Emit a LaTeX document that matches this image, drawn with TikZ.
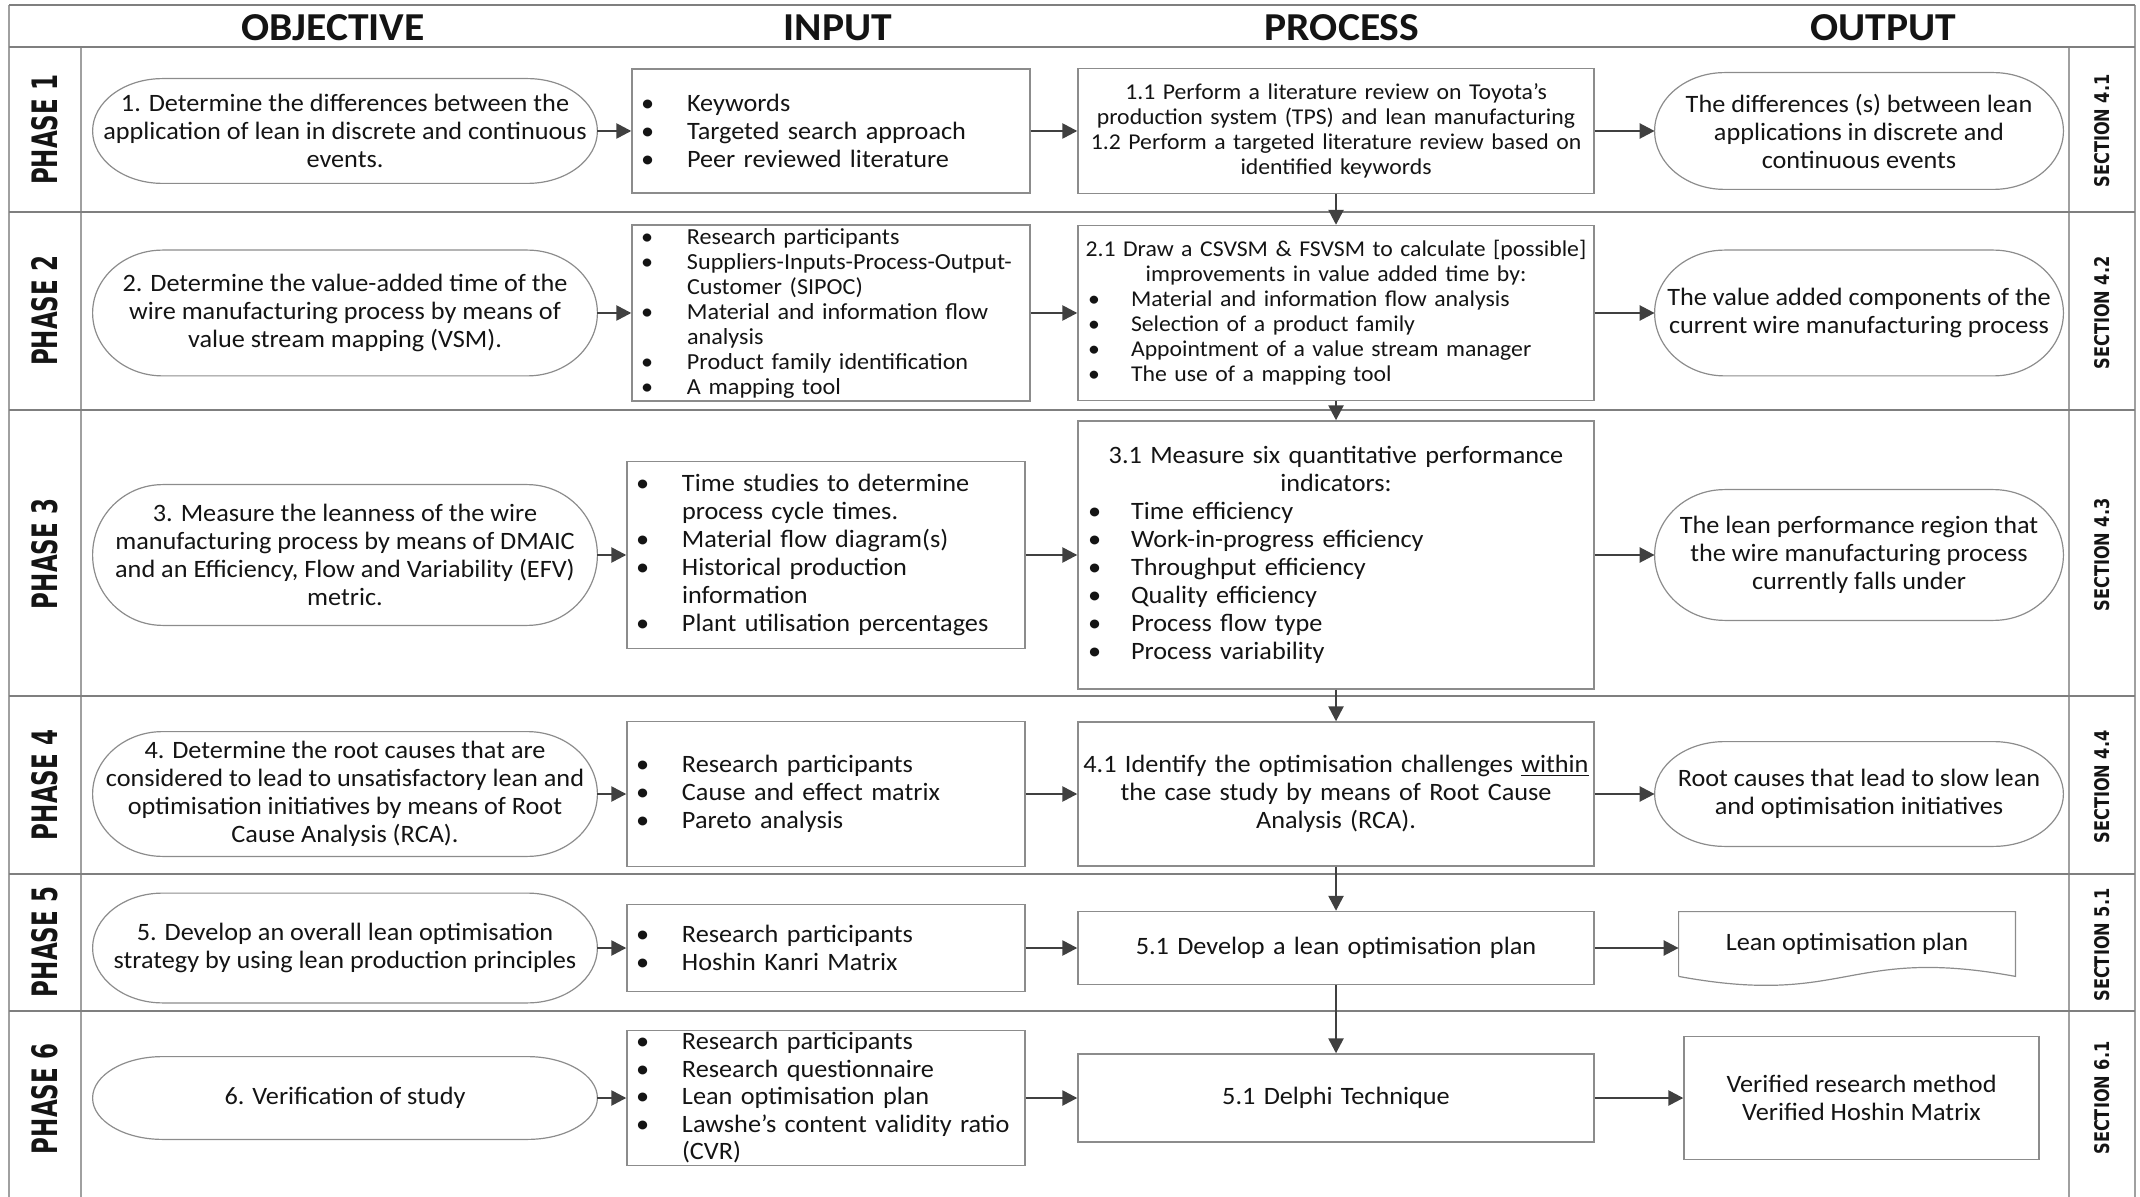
\documentclass[tikz,border=0pt]{standalone}
\usepackage{graphicx}
\usepackage{fontspec}
\setmainfont{Carlito}[FakeStretch=1.05]
\newfontfamily\tagfont{DejaVu Sans}
\usetikzlibrary{arrows.meta,calc}

\definecolor{gridc}{HTML}{7F7F7F}
\definecolor{gridl}{HTML}{A0A0A0}
\definecolor{boxc}{HTML}{8C8C8C}
\definecolor{arrc}{HTML}{404040}
\definecolor{txt}{HTML}{141414}

% bullet items: full-width line, bullet then text at a fixed indent
\newcommand\bl[2][23pt]{\makebox[\linewidth][l]{\makebox[#1][l]{\textbullet}#2}}
\newcommand\cl[2][23pt]{\makebox[\linewidth][l]{\hspace*{#1}#2}}
% bullet items inside the wider process boxes
\newcommand\pb[1]{\makebox[\linewidth][l]{\hspace*{4pt}\makebox[21.5pt][l]{\textbullet}#1}}

% terminator outline (flat top and bottom, elliptical ends) around a node
\newcommand\terminator[1]{%
  \draw[termline] ([xshift=35pt]#1.north west) -- ([xshift=-35pt]#1.north east)
    .. controls ([xshift=-15.67pt]#1.north east) and ($(#1.east)!0.5523!(#1.north east)$) .. (#1.east)
    .. controls ($(#1.east)!0.5523!(#1.south east)$) and ([xshift=-15.67pt]#1.south east) .. ([xshift=-35pt]#1.south east)
    -- ([xshift=35pt]#1.south west)
    .. controls ([xshift=15.67pt]#1.south west) and ($(#1.west)!0.5523!(#1.south west)$) .. (#1.west)
    .. controls ($(#1.west)!0.5523!(#1.north west)$) and ([xshift=15.67pt]#1.north west) .. ([xshift=35pt]#1.north west)
    -- cycle;}

\begin{document}
\begin{tikzpicture}[x=0.5pt,y=-0.5pt,
  every node/.style={font=\fontsize{12.5}{14}\selectfont, text=txt, inner sep=0pt},
  tight/.style={font=\fontsize{11.5}{12.5}\selectfont},
  tighter/.style={font=\fontsize{11.3}{12.5}\selectfont},
  objnode/.style={align=center, minimum width=252pt},
  outnode/.style={align=center, minimum width=204pt},
  inbox/.style={draw=boxc, line width=0.7pt, text width=190pt, inner xsep=4.5pt, inner ysep=0pt, align=center},
  procbox/.style={draw=boxc, line width=0.7pt, text width=256pt, inner xsep=1pt, inner ysep=0pt, align=center},
  outbox/.style={draw=boxc, line width=0.7pt, align=center, minimum width=177.5pt},
  termline/.style={draw=boxc, line width=0.6pt},
  flow/.style={draw=arrc, line width=1.25pt, -{Triangle[length=7.5pt,width=7.5pt]}},
  gridh/.style={draw=gridc, line width=1pt},
  gridv/.style={draw=gridl, line width=0.6pt},
  hdr/.style={font=\fontsize{19.8}{24}\selectfont\bfseries},
  tag/.style={rotate=90}
]
\useasboundingbox (0,0) rectangle (2140,1197);

% table frame
\draw[gridv] (9,5) -- (9,1197);
\draw[gridv] (2135,5) -- (2135,1197);
\draw[gridv] (81,47) -- (81,1197);
\draw[gridv] (2069,47) -- (2069,1197);
\draw[gridh] (9,5) -- (2135,5);
\draw[gridh] (9,47) -- (2135,47);
\foreach \yy in {212,410,696,874,1011}{\draw[gridh] (9,\yy) -- (2135,\yy);}

% column headings
\node[hdr] (hobj) at (333,28) {OBJECTIVE};
\node[hdr] (hin) at (838,28) {INPUT};
\node[hdr] (hproc) at (1342,28) {PROCESS};
\node[hdr] (hout) at (1883,28) {OUTPUT};

% phase and section tags
\foreach \nm/\yy/\t in {ph1/130/1,ph2/311/2,ph3/554/3,ph4/785/4,ph5/942/5,ph6/1099/6}{
  \node[tag] (\nm) at (45,\yy) {\resizebox{55pt}{13pt}{\tagfont\bfseries PHASE \t}};}
\foreach \nm/\yy/\t in {sc1/131/4.1,sc2/313/4.2,sc3/555/4.3,sc4/787/4.4,sc5/945/5.1,sc6/1098/6.1}{
  \node[tag] (\nm) at (2102,\yy) {\resizebox{56.5pt}{7.5pt}{\tagfont\bfseries SECTION \t}};}

% ---------- phase 1 ----------
\node[objnode, minimum height=52pt] (obj1) at (345,131) {1. Determine the differences between the\\application of lean in discrete and continuous\\events.};
\terminator{obj1}
\node[inbox, minimum height=62pt] (in1) at (831,131) {\bl{Keywords}\\\bl{Targeted search approach}\\\bl{Peer reviewed literature}};
\node[procbox, tighter, minimum height=62.5pt] (proc1) at (1336,131) {1.1 Perform a literature review on Toyota’s\\production system (TPS) and lean manufacturing\\1.2 Perform a targeted literature review based on\\identified keywords};
\node[outnode, minimum height=58pt] (out1) at (1859,131) {The differences (s) between lean\\applications in discrete and\\continuous events};
\terminator{out1}

% ---------- phase 2 ----------
\node[objnode, minimum height=62.5pt] (obj2) at (345,313) {2. Determine the value-added time of the\\wire manufacturing process by means of\\value stream mapping (VSM).};
\terminator{obj2}
\node[inbox, tight, minimum height=88pt] (in2) at (831,313) {\bl{Research participants}\\\bl{Suppliers-Inputs-Process-Output-}\\\cl{Customer (SIPOC)}\\\bl{Material and information flow}\\\cl{analysis}\\\bl{Product family identification}\\\bl{A mapping tool}};
\node[procbox, tighter, minimum height=87.5pt] (proc2) at (1336,313) {2.1 Draw a CSVSM \& FSVSM to calculate [possible]\\improvements in value added time by:\\\pb{Material and information flow analysis}\\\pb{Selection of a product family}\\\pb{Appointment of a value stream manager}\\\pb{The use of a mapping tool}};
\node[outnode, minimum height=62.5pt] (out2) at (1859,313) {The value added components of the\\current wire manufacturing process};
\terminator{out2}

% ---------- phase 3 ----------
\node[objnode, minimum height=70pt] (obj3) at (345,555) {3. Measure the leanness of the wire\\manufacturing process by means of DMAIC\\and an Efficiency, Flow and Variability (EFV)\\metric.};
\terminator{obj3}
\node[inbox, minimum height=93.5pt] (in3) at (826,555) {\bl{Time studies to determine}\\\cl{process cycle times.}\\\bl{Material flow diagram(s)}\\\bl{Historical production}\\\cl{information}\\\bl{Plant utilisation percentages}};
\node[procbox, minimum height=134pt] (proc3) at (1336,555) {3.1 Measure six quantitative performance\\indicators:\\\pb{Time efficiency}\\\pb{Work-in-progress efficiency}\\\pb{Throughput efficiency}\\\pb{Quality efficiency}\\\pb{Process flow type}\\\pb{Process variability}};
\node[outnode, minimum height=65pt] (out3) at (1859,555) {The lean performance region that\\the wire manufacturing process\\currently falls under};
\terminator{out3}

% ---------- phase 4 ----------
\node[objnode, minimum height=62pt] (obj4) at (345,794) {4. Determine the root causes that are\\considered to lead to unsatisfactory lean and\\optimisation initiatives by means of Root\\Cause Analysis (RCA).};
\terminator{obj4}
\node[inbox, minimum height=72.5pt] (in4) at (826,794) {\bl{Research participants}\\\bl{Cause and effect matrix}\\\bl{Pareto analysis}};
\node[procbox, minimum height=72pt] (proc4) at (1336,794) {4.1 Identify the optimisation challenges \underline{within}\\the case study by means of Root Cause\\Analysis (RCA).};
\node[outnode, minimum height=52pt] (out4) at (1859,794) {Root causes that lead to slow lean\\and optimisation initiatives};
\terminator{out4}

% ---------- phase 5 ----------
\node[objnode, minimum height=54.5pt] (obj5) at (345,948) {5. Develop an overall lean optimisation\\strategy by using lean production principles};
\terminator{obj5}
\node[inbox, minimum height=43.5pt] (in5) at (826,948) {\bl{Research participants}\\\bl{Hoshin Kanri Matrix}};
\node[procbox, minimum height=36.5pt] (proc5) at (1336,948) {5.1 Develop a lean optimisation plan};
\node[minimum width=168pt, minimum height=32pt] (out5) at (1847,944) {\raisebox{2.5pt}{Lean optimisation plan}};
\draw[termline] (out5.south west) -- (out5.north west) -- (out5.north east) -- (out5.south east)
  .. controls ($(out5.south)+(0,-31)$) and ($(out5.south)+(0,31)$) .. (out5.south west);

% ---------- phase 6 ----------
\node[objnode, minimum height=41pt] (obj6) at (345,1098) {6. Verification of study};
\terminator{obj6}
\node[inbox, font=\fontsize{12.5}{13.75}\selectfont, minimum height=67.5pt] (in6) at (826,1098) {\bl{Research participants}\\\bl{Research questionnaire}\\\bl{Lean optimisation plan}\\\bl{Lawshe’s content validity ratio}\\\cl{(CVR)}};
\node[procbox, minimum height=44pt] (proc6) at (1336,1098) {5.1 Delphi Technique};
\node[outbox, minimum height=61.5pt] (out6) at (1861.5,1098) {Verified research method\\Verified Hoshin Matrix};

% horizontal flow in each phase
\foreach \i in {1,...,6}{
  \draw[flow] (obj\i.east) -- (obj\i.east -| in\i.west);
  \draw[flow] (in\i.east) -- (in\i.east -| proc\i.west);
}
\foreach \i in {1,2,3,4,6}{\draw[flow] (proc\i.east) -- (proc\i.east -| out\i.west);}
\draw[flow] (proc5.east) -- (proc5.east -| out5.west);

% vertical flow between processes
\foreach \i/\j in {1/2,2/3,3/4,4/5,5/6}{\draw[flow] (proc\i.south) -- (proc\j.north);}
\end{tikzpicture}
\end{document}
